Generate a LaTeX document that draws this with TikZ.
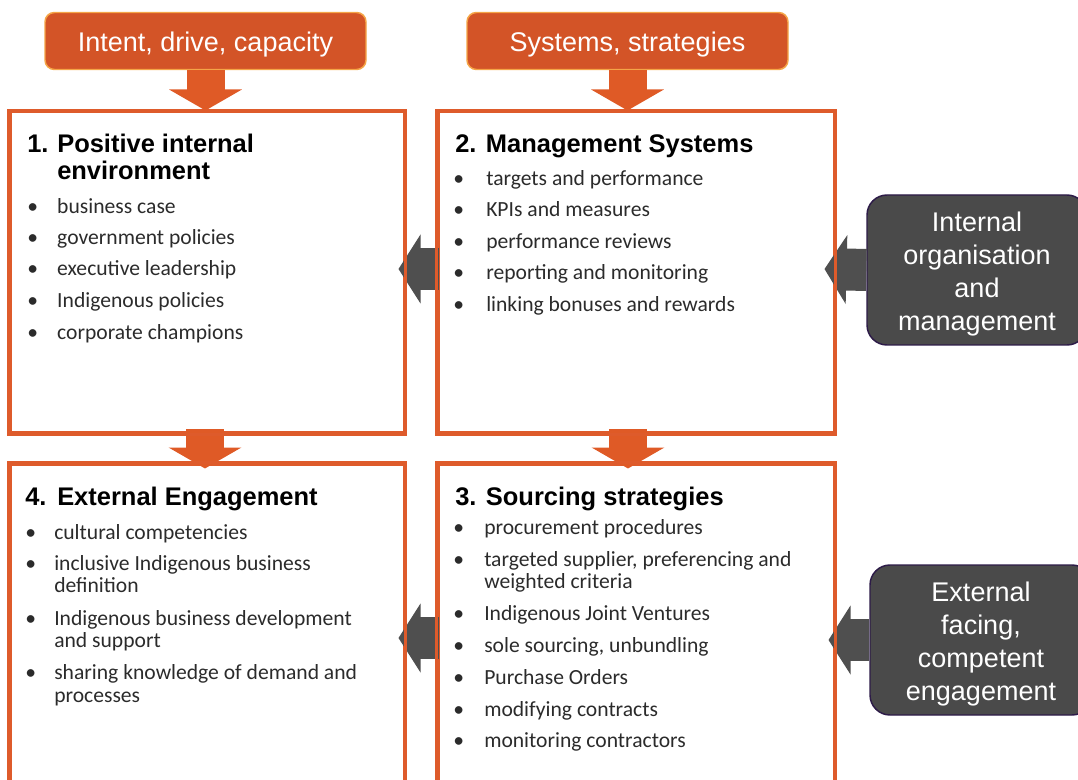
\documentclass[tikz,border=0pt]{standalone}
\usepackage{fontspec}
\setmainfont{Carlito}
\newfontfamily\arialfam{Liberation Sans}
\usetikzlibrary{arrows.meta,calc}
\newdimen\PX \PX=0.75pt
\definecolor{orgfill}{HTML}{D35427}
\definecolor{orgedge}{HTML}{F5A547}
\definecolor{boxedge}{HTML}{DE5B2B}
\definecolor{arrorange}{HTML}{DF5A26}
\definecolor{grayfill}{HTML}{4A4A4A}
\definecolor{grayedge}{HTML}{2D1B48}
\definecolor{grayarrow}{HTML}{4F4F4F}
\definecolor{bodytext}{HTML}{2B2B2B}
\newcommand\headfont{\arialfam\bfseries\fontsize{19.1pt}{20.25pt}\selectfont}
\newcommand\bodyfont{\fontsize{16.2pt}{17.4pt}\selectfont}
\newcommand\bigfont{\arialfam\fontsize{20.25pt}{24.75pt}\selectfont}
\newcommand\bl[1]{\makebox[#1\PX][l]{\textbullet}}
\newcommand\nb[2]{\makebox[#1\PX][l]{#2}}
\begin{document}
\begin{tikzpicture}[x=0.75pt,y=-0.75pt,
  box/.style={draw=boxedge, line width=2.25pt, rectangle, inner sep=0pt},
  topbox/.style={fill=orgfill, draw=orgedge, line width=1.1pt, rounded corners=7pt,
    minimum width=240.75pt, minimum height=42.75pt, text=white, font=\bigfont, inner sep=0pt},
  graybox/.style={fill=grayfill, draw=grayedge, line width=1.1pt, rounded corners=15pt,
    text=white, font=\bigfont, align=center, inner sep=0pt},
  downarrow/.style={draw=arrorange, line width=28.5pt, -{Triangle[length=15.75pt,width=54pt]}, arrorange},
  leftarrow/.style={draw=grayarrow, line width=31.5pt, -{Triangle[length=16.5pt,width=51pt]}, grayarrow},
  head/.style={anchor=base west, inner sep=0pt, font=\headfont, text=black},
  itm/.style={anchor=base west, inner sep=0pt, font=\bodyfont, text=bodytext},
]
\useasboundingbox (0,0) rectangle (1078,780);
\clip (0,0) rectangle (1078,780);

% boxes (nodes, outline only)
\node[topbox] (top1) at (205.5,41) {\rule{0pt}{19.4pt}Intent, drive, capacity};
\node[topbox] (top2) at (627.5,41) {\rule{0pt}{19.4pt}Systems, strategies};
\node[box, minimum width=295.5pt, minimum height=240.75pt] (box1) at (207,272.5) {};
\node[box, minimum width=297pt, minimum height=240.75pt] (box2) at (636,272.5) {};
\node[box, minimum width=295.5pt, minimum height=252pt] (box4) at (207,632) {};
\node[box, minimum width=297pt, minimum height=252pt] (box3) at (636,632) {};
\node[graybox, minimum width=165pt, minimum height=112.5pt] (gray1) at (977,270)
  {\rule{0pt}{20.8pt}Internal\\organisation\\and\\management};
\node[graybox, minimum width=166.5pt, minimum height=112.5pt] (gray2) at (981,640)
  {\rule{0pt}{20.8pt}External\\facing,\\competent\\engagement};

% arrows
\draw[downarrow] (top1.south) -- (top1.south |- box1.north);
\draw[downarrow] (top2.south) -- (top2.south |- box2.north);
\draw[downarrow] ($(box1.south)+(-2,-5)$) -- ($(box1.south |- box4.north)+(-2,6)$);
\draw[downarrow] ($(box2.south)+(-8,-5)$) -- ($(box2.south |- box3.north)+(-8,6)$);
\draw[leftarrow] ($(box2.west |- gray1.west)+(2,-1)$) -- ($(box1.east |- gray1.west)+(-7,-1)$);
\draw[leftarrow] (gray1.west) -- ($(box2.east |- gray1.west)+(-11,-1)$);
\draw[leftarrow] ($(box3.west |- gray2.west)+(2,-2)$) -- ($(box4.east |- gray2.west)+(-7,-2)$);
\draw[leftarrow] (gray2.west) -- ($(box3.east |- gray2.west)+(-7,0)$);

% redraw borders on top
\draw[draw=boxedge, line width=2.25pt] (box1.north west) rectangle (box1.south east);
\draw[draw=boxedge, line width=2.25pt] (box2.north west) rectangle (box2.south east);
\draw[draw=boxedge, line width=2.25pt] (box4.north west) rectangle (box4.south east);
\draw[draw=boxedge, line width=2.25pt] (box3.north west) rectangle (box3.south east);

% box 1
\node[head] (h1a) at (27,153) {\nb{30}{1.}Positive internal};
\node[head] (h1b) at (57,180) {environment};
\node[itm] (i1a) at (27,214) {\bl{30}business case};
\node[itm] (i1b) at (27,245) {\bl{30}government policies};
\node[itm] (i1c) at (27,276) {\bl{30}executive leadership};
\node[itm] (i1d) at (27,308) {\bl{30}Indigenous policies};
\node[itm] (i1e) at (27,340) {\bl{30}corporate champions};

% box 2
\node[head] (h2) at (455,153) {2. Management Systems};
\node[itm] (i2a) at (453,186) {\bl{33}targets and performance};
\node[itm] (i2b) at (453,217) {\bl{33}KPIs and measures};
\node[itm] (i2c) at (453,249) {\bl{33}performance reviews};
\node[itm] (i2d) at (453,280) {\bl{33}reporting and monitoring};
\node[itm] (i2e) at (453,312) {\bl{33}linking bonuses and rewards};

% box 4
\node[head] (h4) at (25,505) {\nb{32}{4.}External Engagement};
\node[itm] (i4a) at (25,539) {\bl{29}cultural competencies};
\node[itm] (i4b) at (25,570) {\bl{29}inclusive Indigenous business};
\node[itm] (i4b2) at (54,592) {definition};
\node[itm] (i4c) at (25,625) {\bl{29}Indigenous business development};
\node[itm] (i4c2) at (54,647) {and support};
\node[itm] (i4d) at (25,679) {\bl{29}sharing knowledge of demand and};
\node[itm] (i4d2) at (54,702) {processes};

% box 3
\node[head] (h3) at (455,505) {3. Sourcing strategies};
\node[itm] (i3a) at (453,534) {\bl{31}procurement procedures};
\node[itm] (i3b) at (453,566) {\bl{31}targeted supplier, preferencing and};
\node[itm] (i3b2) at (484,588) {weighted criteria};
\node[itm] (i3c) at (453,620) {\bl{31}Indigenous Joint Ventures};
\node[itm] (i3d) at (453,652) {\bl{31}sole sourcing, unbundling};
\node[itm] (i3e) at (453,684) {\bl{31}Purchase Orders};
\node[itm] (i3f) at (453,716) {\bl{31}modifying contracts};
\node[itm] (i3g) at (453,747) {\bl{31}monitoring contractors};
\end{tikzpicture}
\end{document}
